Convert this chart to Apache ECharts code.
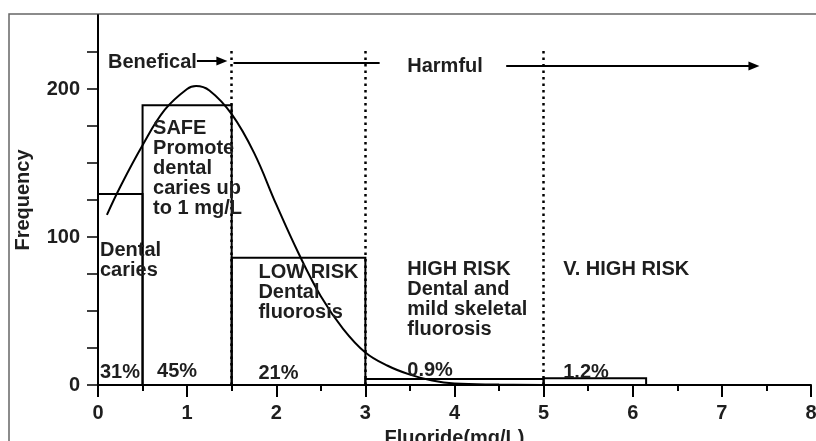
<!DOCTYPE html>
<html>
<head>
<meta charset="utf-8">
<script src="https://cdn.jsdelivr.net/npm/echarts@6/dist/echarts.min.js"></script>
<style>html,body{margin:0;padding:0;background:#fff}#c{width:816px;height:441px}</style>
</head>
<body>
<div id="c"></div>
<script>
// Histogram bins: [start, end, frequency]
var binStart = [0, 0.5, 1.5, 3, 5];
var binEnd   = [0.5, 1.5, 3, 5, 6.15];
var binFreq  = [129, 189, 86, 4, 4.6];

// Fitted distribution curve
var curveX = [0.1, 0.25, 0.5, 0.75, 1.0, 1.1, 1.25, 1.5, 1.75, 2.0, 2.25, 2.5, 2.75, 3.0, 3.25, 3.5, 3.75, 4.0, 4.5, 5.0];
var curveY = [115, 134, 162, 186, 200, 202, 199, 183, 157, 122, 89, 60, 38, 22, 13, 7, 3, 1, 0.3, 0];

// Dotted boundaries
var boundaryX = [1.5, 3, 5];
var boundaryTop = 228;

// Region annotations: [x, y(top), text]
var annX = [0.112, 3.47, 0.618, 0.022, 1.80, 3.47, 5.22, 0.022, 0.663, 1.80, 3.47, 5.22];
var annY = [225, 222, 180, 97.5, 82.5, 85, 85, 15.5, 16.2, 14.2, 16.9, 14.9];
var annText = ['Benefical', 'Harmful',
  'SAFE\nPromote\ndental\ncaries up\nto 1 mg/L',
  'Dental\ncaries',
  'LOW RISK\nDental\nfluorosis',
  'HIGH RISK\nDental and\nmild skeletal\nfluorosis',
  'V. HIGH RISK',
  '31%', '45%', '21%', '0.9%', '1.2%'];

// Arrows: [x0, x1, y, hasArrowHead]
var arrowX0 = [1.11, 1.52, 4.58];
var arrowX1 = [1.39, 3.16, 7.36];
var arrowY  = [219, 218, 215.5];
var arrowHead = [true, false, true];

// Axis ticks and labels
var yTickValues = [0, 25, 50, 75, 100, 125, 150, 175, 200, 225];
var yLabelValues = [0, 100, 200];

var FONT = 'Liberation Sans';
var TXT = '#1e1e1e';

var bins = binStart.map(function (s, i) { return [s, binEnd[i], binFreq[i]]; });
var curve = curveX.map(function (x, i) { return [x, curveY[i]]; });
var anns = annX.map(function (x, i) { return [x, annY[i], i]; });

var boundaryLines = boundaryX.map(function (x) {
  return [{coord: [x, 0]}, {coord: [x, boundaryTop]}];
});
var arrowLines = arrowX0.map(function (x0, i) {
  return [{coord: [x0, arrowY[i]], symbol: 'none'},
          {coord: [arrowX1[i], arrowY[i]], symbol: arrowHead[i] ? 'triangle' : 'none', symbolSize: [9, 11]}];
});

var chart = echarts.init(document.getElementById('c'), null, {renderer: 'canvas'});
chart.setOption({
  animation: false,
  backgroundColor: '#fff',
  grid: {left: 98, right: 5, top: 15, bottom: 56, containLabel: false, outerBoundsMode: 'none'},
  graphic: [{
    type: 'rect', shape: {x: 9, y: 14, width: 820, height: 440},
    style: {fill: 'none', stroke: '#666', lineWidth: 1.5}, z: -1
  }],
  xAxis: {
    type: 'value', min: 0, max: 8, interval: 1,
    name: 'Fluoride(mg/L)', nameLocation: 'middle', nameGap: 43,
    nameTextStyle: {fontFamily: FONT, fontWeight: 'bold', fontSize: 20, color: TXT},
    axisLine: {show: true, lineStyle: {color: '#000', width: 2}},
    axisTick: {show: true, length: 12, lineStyle: {color: '#000', width: 2}},
    minorTick: {show: true, splitNumber: 2, length: 6, lineStyle: {color: '#000', width: 2}},
    axisLabel: {fontFamily: FONT, fontWeight: 'bold', fontSize: 20, color: TXT, margin: 18},
    splitLine: {show: false}
  },
  yAxis: {
    type: 'value', min: 0, max: 250, interval: 25,
    name: 'Frequency', nameLocation: 'middle', nameGap: 65,
    nameTextStyle: {fontFamily: FONT, fontWeight: 'bold', fontSize: 20, color: TXT},
    axisLine: {show: true, lineStyle: {color: '#000', width: 2}},
    axisTick: {show: true, length: 11, customValues: yTickValues, lineStyle: {color: '#000', width: 1.5}},
    axisLabel: {fontFamily: FONT, fontWeight: 'bold', fontSize: 20, color: TXT, margin: 18,
      customValues: yLabelValues},
    splitLine: {show: false}
  },
  series: [
    {
      type: 'custom',
      data: bins,
      encode: {x: [0, 1], y: 2},
      renderItem: function (params, api) {
        var p0 = api.coord([api.value(0), api.value(2)]);
        var p1 = api.coord([api.value(1), 0]);
        return {
          type: 'rect',
          shape: {x: p0[0], y: p0[1], width: p1[0] - p0[0], height: p1[1] - p0[1]},
          style: {fill: 'none', stroke: '#000', lineWidth: 2}
        };
      },
      z: 2
    },
    {
      type: 'line',
      data: curve,
      smooth: 0.4,
      showSymbol: false,
      lineStyle: {color: '#000', width: 2},
      z: 3,
      markLine: {
        silent: true, symbol: 'none', label: {show: false},
        lineStyle: {color: '#000', width: 2.5, type: [2.5, 4]},
        data: boundaryLines
      }
    },
    {
      type: 'line',
      data: [],
      markLine: {
        silent: true, label: {show: false},
        lineStyle: {color: '#000', width: 2, type: 'solid'},
        data: arrowLines
      }
    },
    {
      type: 'custom',
      data: anns,
      renderItem: function (params, api) {
        var p = api.coord([api.value(0), api.value(1)]);
        return {
          type: 'text',
          x: p[0], y: p[1],
          style: {
            text: annText[api.value(2)],
            fontFamily: FONT, fontWeight: 'bold', fontSize: 20, lineHeight: 20,
            fill: TXT, align: 'left', verticalAlign: 'top'
          }
        };
      },
      z: 5
    }
  ]
});
</script>
</body>
</html>
